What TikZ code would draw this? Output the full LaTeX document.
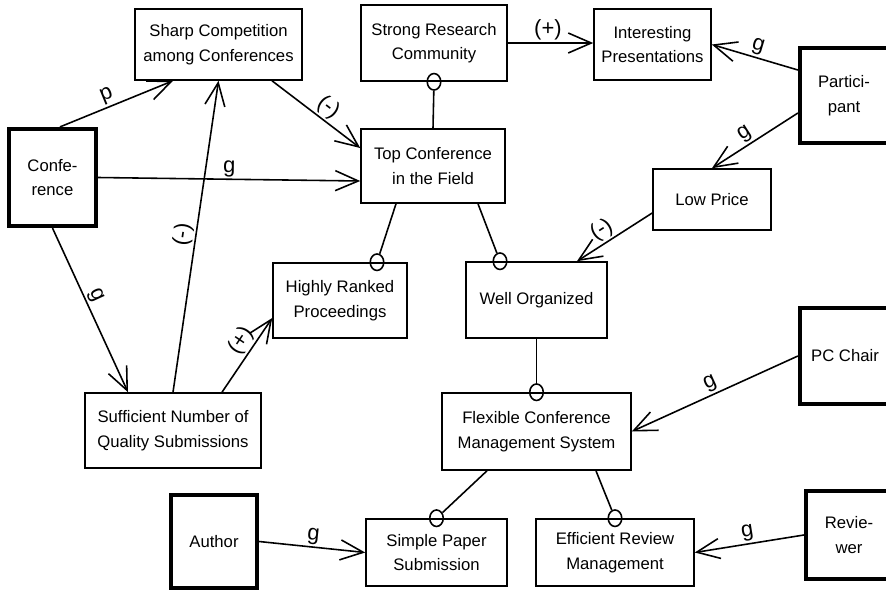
\documentclass[tikz,border=0pt]{standalone}
\usepackage{fontspec}
\setmainfont{Liberation Sans}
\usetikzlibrary{arrows.meta,shapes.geometric}

\begin{document}
\begin{tikzpicture}[x=0.02cm,y=-0.02cm,
  font=\fontsize{9.5}{14}\selectfont,
  goal/.style={rectangle,draw,line width=0.9pt,align=center,inner sep=1pt},
  actor/.style={goal,line width=2.4pt},
  ring/.style={ellipse,draw,line width=0.9pt,minimum width=0.27cm,
               minimum height=0.33cm,inner sep=0pt},
  link/.style={line width=0.9pt,-{Straight Barb[length=4.6mm,width=4mm]}},
  tie/.style={line width=0.9pt},
  lbl/.style={midway,above,sloped,inner sep=1pt,font=\fontsize{12.5}{14}\selectfont}]

  \path[use as bounding box,fill=white] (0,0) rectangle (886,592);
  \clip (0,0) rectangle (886,592);

  % actors
  \node[actor,minimum width=1.74cm,minimum height=1.94cm] (conf)   at (52.5,177.5) {Confe-\\rence};
  \node[actor,minimum width=1.76cm,minimum height=1.9cm]  (partic) at (844,95.5)   {Partici-\\pant};
  \node[actor,minimum width=1.8cm,minimum height=1.92cm]  (pc)     at (845,356)    {PC Chair};
  \node[actor,minimum width=1.72cm,minimum height=1.86cm] (author) at (214,541.5)  {Author};
  \node[actor,minimum width=1.72cm,minimum height=1.76cm] (rev)    at (849,535)    {Revie-\\wer};

  % goals
  \node[goal,minimum width=3.34cm,minimum height=1.42cm] (sharp)    at (218.5,44.5) {Sharp Competition\\among Conferences};
  \node[goal,minimum width=2.92cm,minimum height=1.52cm] (strong)   at (434,43)     {Strong Research\\Community};
  \node[goal,minimum width=2.34cm,minimum height=1.42cm] (interest) at (652.5,44.5) {Interesting\\Presentations};
  \node[goal,minimum width=2.88cm,minimum height=1.48cm] (top)      at (433,166)    {Top Conference\\in the Field};
  \node[goal,minimum width=2.36cm,minimum height=1.22cm] (low)      at (712,199.5)  {Low Price};
  \node[goal,minimum width=2.68cm,minimum height=1.5cm]  (ranked)   at (340,300.5)  {Highly Ranked\\Proceedings};
  \node[goal,minimum width=2.82cm,minimum height=1.52cm] (well)     at (536.5,300)  {Well Organized};
  \node[goal,minimum width=3.52cm,minimum height=1.5cm]  (suff)     at (173,430.5)  {Sufficient Number of\\Quality Submissions};
  \node[goal,minimum width=3.78cm,minimum height=1.54cm] (flex)     at (536.5,431.5){Flexible Conference\\Management System};
  \node[goal,minimum width=2.82cm,minimum height=1.34cm] (simple)   at (436.5,552.5){Simple Paper\\Submission};
  \node[goal,minimum width=3.16cm,minimum height=1.34cm] (review)   at (615,552.5)  {Efficient Review\\Management};

  % arrows with their marks
  \draw[link] ([xshift=0.15cm]conf.north) -- ([xshift=-0.91cm]sharp.south) node[lbl,pos=0.45] {p};
  \draw[link] (conf.east) -- ([yshift=-0.3cm]top.west) node[lbl] {g};
  \draw[link] ([xshift=1.07cm]sharp.south) -- ([yshift=0.36cm]top.west) node[lbl,pos=0.55] {(-)};
  \draw[link] (suff.north) -- (sharp.south) node[lbl] {(-)};
  \draw[link] (conf.south) -- ([xshift=-0.9cm]suff.north) node[lbl,pos=0.44] {g};
  \draw[link] ([xshift=0.98cm]suff.north) -- ([yshift=-0.35cm]ranked.west) node[lbl,pos=0.6] {(+)};
  \draw[link] (strong.east) -- (strong.east -| interest.west) node[lbl,pos=0.47] {(+)};
  \draw[link] ([yshift=0.51cm]partic.west) -- (interest.east) node[lbl] {g};
  \draw[link] ([yshift=-0.35cm]partic.west) -- (low.north) node[lbl,pos=0.55] {g};
  \draw[link] ([yshift=-0.27cm]low.west) -- ([xshift=0.81cm]well.north) node[lbl,pos=0.58] {(-)};
  \draw[link] (pc.west) -- (flex.east) node[lbl] {g};
  \draw[link] (author.east) -- (simple.west) node[lbl] {g};
  \draw[link] (rev.west) -- (review.east) node[lbl] {g};

  % decomposition rings
  \node[ring] (o-strong) at (strong.south) {};
  \node[ring] (o-ranked) at ([xshift=0.74cm]ranked.north) {};
  \node[ring] (o-well)   at ([xshift=-0.73cm]well.north) {};
  \node[ring] (o-flex)   at (flex.north) {};
  \node[ring] (o-simple) at (simple.north) {};
  \node[ring] (o-review) at (review.north) {};

  \draw[tie] (top.north) -- (o-strong);
  \draw[tie] ([xshift=-0.74cm]top.south) -- (o-ranked);
  \draw[tie] ([xshift=0.9cm]top.south) -- (o-well);
  \draw[tie] (well.south) -- (o-flex);
  \draw[tie] ([xshift=-0.99cm]flex.south) -- (o-simple);
  \draw[tie] ([xshift=1.19cm]flex.south) -- (o-review);
\end{tikzpicture}
\end{document}
